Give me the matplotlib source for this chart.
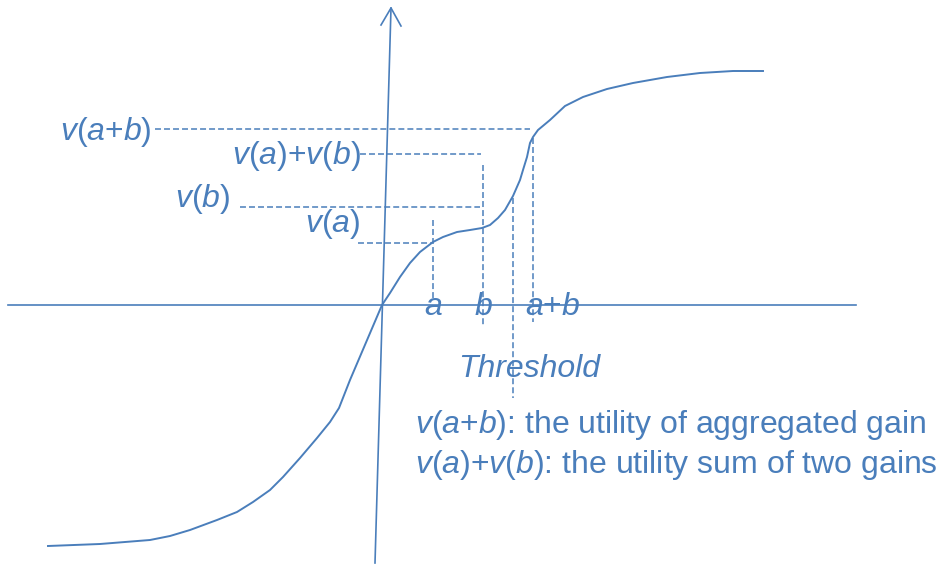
import matplotlib
matplotlib.use("Agg")
import matplotlib.pyplot as plt

plt.rcParams["font.family"] = ["Liberation Sans", "DejaVu Sans"]
plt.rcParams["mathtext.fontset"] = "custom"
plt.rcParams["mathtext.rm"] = "Liberation Sans"
plt.rcParams["mathtext.it"] = "Liberation Sans:italic"

BLUE = "#4a7ebb"

# value function, origin at the axes crossing
curve_x = [-332, -280, -230, -210, -190, -163, -143, -127, -110, -97, -80,
           -63, -50, -41, -30, 2,
           10, 20, 30, 40, 53, 63, 77, 90, 102, 110, 118, 125, 133, 140,
           143, 147, 150, 153, 158, 170, 185, 203, 227, 253, 287, 320, 353, 383]
curve_y = [-241, -239, -235, -231, -225, -215, -207, -197, -185, -172, -153,
           -133, -117, -103, -75, 0,
           12, 28, 42, 53, 63, 68, 73, 75, 77, 80, 87, 95, 109, 125,
           135, 148, 162, 168, 175, 185, 199, 208, 216, 222, 228, 232, 234, 234]

# gains on the x axis and their utilities
gain_a = 53
gain_b = 103
threshold = 133
gain_ab = 153
v_a = 62
v_b = 98
v_sum = 151
v_ab = 176

fig = plt.figure(figsize=(9.37, 5.65), dpi=100)
ax = fig.add_axes([0, 0, 1, 1])
ax.set_xlim(-380, 557)
ax.set_ylim(-260, 305)
ax.axis("off")

# axes
ax.plot([-372, 476], [0, 0], color=BLUE, lw=1.2)
ax.plot([-5, 11], [-258, 297], color=BLUE, lw=1.2)
ax.plot([1, 11, 21], [280, 297, 279], color=BLUE, lw=1.2)

ax.plot(curve_x, curve_y, color=BLUE, lw=1.4)

dash = dict(color=BLUE, lw=1.1, linestyle=(0, (3.9, 2)))

# horizontal guides
ax.plot([-225, gain_ab - 3], [v_ab, v_ab], **dash)
ax.plot([-20, gain_b - 2], [v_sum, v_sum], **dash)
ax.plot([-140, gain_b - 3], [v_b, v_b], **dash)
ax.plot([-22, gain_a - 1], [v_a, v_a], **dash)

# vertical guides
ax.plot([gain_a, gain_a], [85, 7], **dash)
ax.plot([gain_b, gain_b], [140, -20], **dash)
ax.plot([threshold, threshold], [v_b + 9, -93], **dash)
ax.plot([gain_ab, gain_ab], [v_ab - 9, -17], **dash)

fs = 23
ax.text(-320, 173, r"$v(a{+}b)$", color=BLUE, fontsize=fs, ha="left", va="center")
ax.text(-148, 149, r"$v(a){+}v(b)$", color=BLUE, fontsize=fs, ha="left", va="center")
ax.text(-205, 106, r"$v(b)$", color=BLUE, fontsize=fs, ha="left", va="center")
ax.text(-75, 81, r"$v(a)$", color=BLUE, fontsize=fs, ha="left", va="center")

ax.text(gain_a, -2, r"$a$", color=BLUE, fontsize=fs, ha="center", va="center")
ax.text(gain_b, -2, r"$b$", color=BLUE, fontsize=fs, ha="center", va="center")
ax.text(gain_ab + 20, -2, r"$a{+}b$", color=BLUE, fontsize=fs, ha="center", va="center")

ax.text(78, -64, "Threshold", color=BLUE, fontsize=fs, style="italic",
        ha="left", va="center")
ax.text(35, -120, r"$v(a{+}b)$: the utility of aggregated gain", color=BLUE,
        fontsize=fs, ha="left", va="center")
ax.text(35, -160, r"$v(a){+}v(b)$: the utility sum of two gains", color=BLUE,
        fontsize=fs, ha="left", va="center")

fig.savefig("out.png", dpi=100, facecolor="white")
